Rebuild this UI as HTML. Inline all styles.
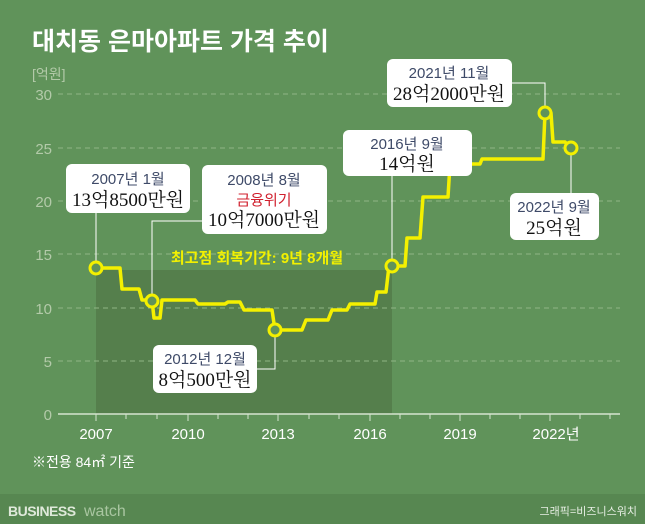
<!DOCTYPE html>
<html><head><meta charset="utf-8"><style>
body{margin:0;width:645px;height:524px;overflow:hidden;background:#60935a}
svg{display:block}
text{font-family:"Liberation Sans","Noto Sans CJK KR",sans-serif}
.s{font-family:"Liberation Serif","Noto Serif CJK KR",serif}
</style></head><body>
<svg width="645" height="524" viewBox="0 0 645 524">
<rect width="645" height="524" fill="#60935a"/>
<rect x="0" y="494" width="645" height="30" fill="#578751"/>
<rect x="96" y="270" width="296" height="144" fill="#557f4c"/>
<text x="32" y="50" font-size="25" font-weight="bold" fill="#fff" font-family="'Noto Sans CJK KR',sans-serif">대치동 은마아파트 가격 추이</text>
<text x="32" y="79" font-size="14" fill="#b3caa9">[억원]</text>
<g stroke="#8fb585" stroke-dasharray="5,4" stroke-width="1">
<line x1="58" y1="94" x2="620" y2="94"/><line x1="58" y1="148" x2="620" y2="148"/>
<line x1="58" y1="201" x2="620" y2="201"/><line x1="58" y1="254" x2="620" y2="254"/>
<line x1="58" y1="308" x2="620" y2="308"/><line x1="58" y1="361" x2="620" y2="361"/>
</g>
<g font-size="15" fill="#b3caa9" text-anchor="end">
<text x="52" y="100">30</text><text x="52" y="154">25</text><text x="52" y="207">20</text>
<text x="52" y="260">15</text><text x="52" y="314">10</text><text x="52" y="367">5</text><text x="52" y="420">0</text>
</g>
<line x1="58" y1="414" x2="620" y2="414" stroke="#d6e4d0" stroke-width="1.5"/>
<g stroke="#d6e4d0" stroke-width="1">
<line x1="96" y1="414" x2="96" y2="421"/><line x1="126" y1="414" x2="126" y2="419"/><line x1="157" y1="414" x2="157" y2="419"/>
<line x1="188" y1="414" x2="188" y2="421"/><line x1="218" y1="414" x2="218" y2="419"/><line x1="248" y1="414" x2="248" y2="419"/>
<line x1="278" y1="414" x2="278" y2="421"/><line x1="309" y1="414" x2="309" y2="419"/><line x1="339" y1="414" x2="339" y2="419"/>
<line x1="370" y1="414" x2="370" y2="421"/><line x1="400" y1="414" x2="400" y2="419"/><line x1="430" y1="414" x2="430" y2="419"/>
<line x1="460" y1="414" x2="460" y2="421"/><line x1="490" y1="414" x2="490" y2="419"/><line x1="520" y1="414" x2="520" y2="419"/>
<line x1="550" y1="414" x2="550" y2="421"/><line x1="580" y1="414" x2="580" y2="419"/><line x1="610" y1="414" x2="610" y2="419"/>
</g>
<g font-size="15" fill="#fff" text-anchor="middle">
<text x="96" y="439">2007</text><text x="188" y="439">2010</text><text x="278" y="439">2013</text>
<text x="370" y="439">2016</text><text x="460" y="439">2019</text><text x="556" y="439">2022년</text>
</g>
<text x="257" y="263" font-size="15" font-weight="bold" fill="#f2f000" text-anchor="middle">최고점 회복기간: 9년 8개월</text>
<g stroke="#fff" stroke-width="1" fill="none">
<polyline points="96,212 96,262"/>
<polyline points="202,221 152,221 152,296"/>
<polyline points="257,369 275,369 275,336"/>
<polyline points="392,176 392,260"/>
<polyline points="512,83 545,83 545,107"/>
<polyline points="571,153 571,193"/>
</g>
<polyline fill="none" stroke="#f4f000" stroke-width="3.5" stroke-linejoin="round" points="96,268 120,268 122,289 139,289 142,300 152,300 154,318 160,318 162,300 195,300 198,304 225,304 228,302 240,302 244,310 272,310 275,330 302,330 306,320 328,320 332,310 347,310 350,304 375,304 377,292 386,292 389,266 405,266 407,238 420,238 423,197 448,197 450,164 480,164 482,159 543,159 545,113 551,113 553,142 565,142 571,148"/>
<g fill="#60935a" stroke="#f4f000" stroke-width="3">
<circle cx="96" cy="268" r="6"/><circle cx="152" cy="301" r="6"/><circle cx="275" cy="330" r="6"/>
<circle cx="392" cy="266" r="6"/><circle cx="545" cy="113" r="6"/><circle cx="571" cy="148" r="6"/>
</g>
<g fill="#fff">
<rect x="66" y="164" width="124" height="49" rx="6"/>
<rect x="202" y="165" width="125" height="69" rx="6"/>
<rect x="343" y="130" width="129" height="46" rx="6"/>
<rect x="153" y="345" width="104" height="48" rx="6"/>
<rect x="387" y="59" width="125" height="48" rx="6"/>
<rect x="510" y="193" width="89" height="47" rx="6"/>
</g>
<g font-size="15" fill="#3e4a68" text-anchor="middle">
<text x="128" y="184">2007년 1월</text>
<text x="264" y="185">2008년 8월</text>
<text x="407" y="149">2016년 9월</text>
<text x="205" y="364">2012년 12월</text>
<text x="449" y="78">2021년 11월</text>
<text x="554" y="212">2022년 9월</text>
</g>
<text x="264" y="205" font-size="15" fill="#d0202e" text-anchor="middle">금융위기</text>
<g font-size="19" fill="#111" text-anchor="middle">
<text class="s" x="128" y="206">13억8500만원</text>
<text class="s" x="264" y="226">10억7000만원</text>
<text class="s" x="407" y="170">14억원</text>
<text class="s" x="205" y="386">8억500만원</text>
<text class="s" x="449" y="100">28억2000만원</text>
<text class="s" x="554" y="234">25억원</text>
</g>
<text x="32" y="467" font-size="14" fill="#fff">※전용 84㎡ 기준</text>
<text x="8" y="516" font-size="14" font-weight="900" fill="#dfe9da" letter-spacing="-0.5">BUSINESS</text>
<text x="84" y="516" font-size="16" fill="#a9c6a1">watch</text>
<text x="637" y="515" font-size="11" fill="#e8efe5" text-anchor="end">그래픽=비즈니스워치</text>
</svg>
</body></html>
